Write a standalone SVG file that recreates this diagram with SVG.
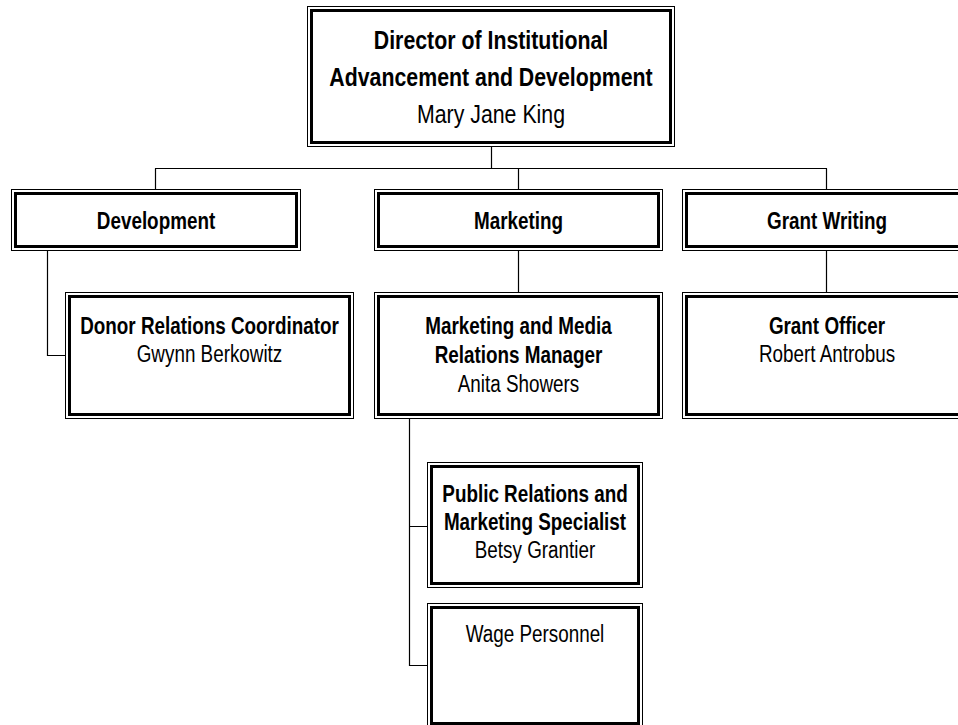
<svg xmlns="http://www.w3.org/2000/svg" width="958" height="725" viewBox="0 0 958 725">
<style>
.o{fill:#fff;stroke:#000;stroke-width:1}
.i{fill:none;stroke:#000;stroke-width:3}
.c{fill:none;stroke:#000;stroke-width:1.2}
text{font-family:"Liberation Sans",Arial,sans-serif;font-size:23px;text-anchor:middle;fill:#000}
.b{font-weight:bold}
.t{font-size:26px}
</style>
<rect width="958" height="725" fill="#fff"/>
<g id="connectors">
<path class="c" d="M491.5 147V168.5M155 168.5H827M155.5 168.5V189M518.5 168.5V189M826.5 168.5V189"/>
<path class="c" d="M47.5 251V355.5H65"/>
<path class="c" d="M518.5 251V292M826.5 251V292"/>
<path class="c" d="M409.5 419V665.5H427M409.5 526.5H427"/>
</g>
<g id="director">
<rect class="o" x="307.5" y="6.5" width="367" height="140"/>
<rect class="i" x="311.5" y="10.5" width="359" height="132"/>
<text class="t b" transform="translate(491 49) scale(0.82 1)">Director of Institutional</text>
<text class="t b" transform="translate(491 86) scale(0.82 1)">Advancement and Development</text>
<text class="t" transform="translate(491 123) scale(0.82 1)">Mary Jane King</text>
</g>
<g id="development">
<rect class="o" x="11.5" y="189.5" width="289" height="61"/>
<rect class="i" x="15.5" y="193.5" width="281" height="53"/>
<text class="b" transform="translate(156 229) scale(0.82 1)">Development</text>
</g>
<g id="marketing">
<rect class="o" x="374.5" y="189.5" width="288" height="61"/>
<rect class="i" x="378.5" y="193.5" width="280" height="53"/>
<text class="b" transform="translate(518.5 229) scale(0.82 1)">Marketing</text>
</g>
<g id="grantwriting">
<rect class="o" x="682.5" y="189.5" width="289" height="61"/>
<rect class="i" x="686.5" y="193.5" width="281" height="53"/>
<text class="b" transform="translate(827 229) scale(0.82 1)">Grant Writing</text>
</g>
<g id="donor">
<rect class="o" x="65.5" y="292.5" width="288" height="126"/>
<rect class="i" x="69.5" y="296.5" width="280" height="118"/>
<text class="b" transform="translate(209.5 334) scale(0.82 1)">Donor Relations Coordinator</text>
<text transform="translate(209.5 362) scale(0.82 1)">Gwynn Berkowitz</text>
</g>
<g id="mmr">
<rect class="o" x="374.5" y="292.5" width="288" height="126"/>
<rect class="i" x="378.5" y="296.5" width="280" height="118"/>
<text class="b" transform="translate(518.5 334) scale(0.82 1)">Marketing and Media</text>
<text class="b" transform="translate(518.5 363) scale(0.82 1)">Relations Manager</text>
<text transform="translate(518.5 392) scale(0.82 1)">Anita Showers</text>
</g>
<g id="grantofficer">
<rect class="o" x="682.5" y="292.5" width="289" height="126"/>
<rect class="i" x="686.5" y="296.5" width="281" height="118"/>
<text class="b" transform="translate(827 334) scale(0.82 1)">Grant Officer</text>
<text transform="translate(827 362) scale(0.82 1)">Robert Antrobus</text>
</g>
<g id="pr">
<rect class="o" x="427.5" y="462.5" width="215" height="125"/>
<rect class="i" x="431.5" y="466.5" width="207" height="117"/>
<text class="b" transform="translate(535 502) scale(0.82 1)">Public Relations and</text>
<text class="b" transform="translate(535 530) scale(0.82 1)">Marketing Specialist</text>
<text transform="translate(535 558) scale(0.82 1)">Betsy Grantier</text>
</g>
<g id="wage">
<rect class="o" x="427.5" y="603.5" width="215" height="124"/>
<rect class="i" x="431.5" y="607.5" width="207" height="116"/>
<text transform="translate(535 642) scale(0.82 1)">Wage Personnel</text>
</g>
</svg>
